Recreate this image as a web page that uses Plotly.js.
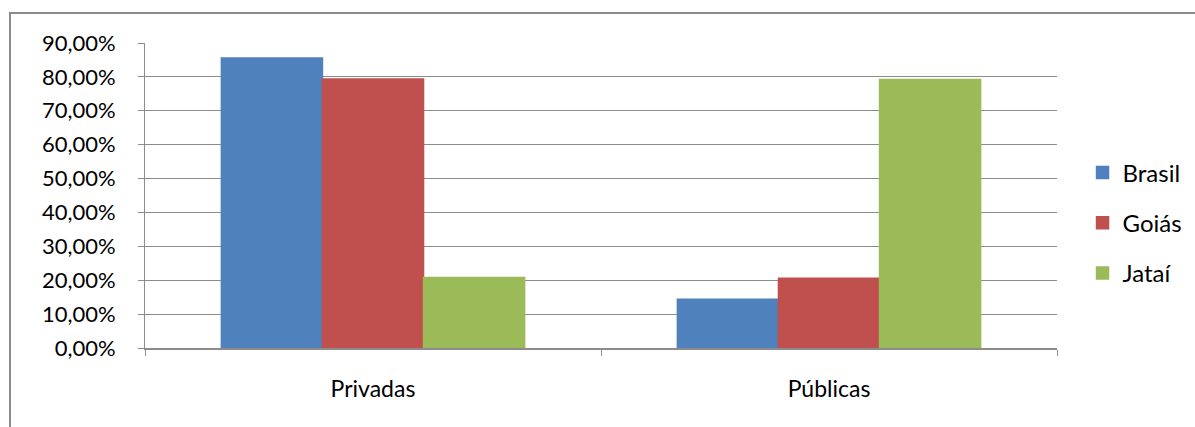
<!DOCTYPE html>
<html>
<head>
<meta charset="utf-8">
<script src="https://cdn.plot.ly/plotly-3.0.1.min.js"></script>
<style>
  html, body { margin: 0; padding: 0; background: #ffffff; }
  #wrap { position: relative; width: 1195px; height: 427px; overflow: hidden; }
  #chart { position: absolute; left: 0; top: 0; width: 1195px; height: 427px; }
  #frame { position: absolute; left: 9px; top: 12px; width: 1200px; height: 430px;
           border: 2px solid #8c8c8c; box-sizing: border-box; pointer-events: none; }
</style>
</head>
<body>
<div id="wrap">
  <div id="chart"></div>
  <div id="frame"></div>
</div>
<script>
// Share of enrolments by type of institution (%)
const categories = ['Privadas', 'Públicas'];
const brasil = [85.6, 14.4];
const goias = [79.4, 20.6];
const jatai = [20.8, 79.2];

const seriesNames = ['Brasil', 'Goiás', 'Jataí'];
const seriesColors = ['#4f81bd', '#c0504d', '#9bbb59'];

const yTickVals = [0, 10, 20, 30, 40, 50, 60, 70, 80, 90];
const yTickText = ['0,00%', '10,00%', '20,00%', '30,00%', '40,00%',
                   '50,00%', '60,00%', '70,00%', '80,00%', '90,00%'];

const font = 'Lato, "Open Sans", sans-serif';

const traces = [brasil, goias, jatai].map((vals, i) => ({
  type: 'bar',
  name: seriesNames[i],
  x: categories,
  y: vals,
  marker: { color: seriesColors[i], line: { width: 1.5, color: seriesColors[i] } },
  legendgroup: 'g' + i,
  hoverinfo: 'skip'
}));

const layout = {
  width: 1195,
  height: 427,
  margin: { l: 145, r: 138, t: 43, b: 79, autoexpand: false },
  paper_bgcolor: '#ffffff',
  plot_bgcolor: '#ffffff',
  font: { family: font, size: 22, color: '#000000' },
  barmode: 'group',
  bargap: 0.335,
  bargroupgap: 0,
  showlegend: true,
  legend: {
    x: 1.028, xanchor: 'left',
    y: 0.41, yanchor: 'middle',
    font: { family: font, size: 24, color: '#000000' },
    tracegroupgap: 16,
    itemwidth: 30,
    traceorder: 'grouped'
  },
  xaxis: {
    type: 'category',
    showline: true,
    linecolor: '#8c8c8c',
    linewidth: 2,
    ticks: 'outside',
    tickson: 'boundaries',
    ticklen: 6,
    tickcolor: '#8c8c8c',
    tickwidth: 1,
    showgrid: false,
    tickfont: { family: font, size: 23, color: '#000000' },
    ticklabelstandoff: 19
  },
  yaxis: {
    range: [0, 90],
    tickvals: yTickVals,
    ticktext: yTickText,
    showline: true,
    linecolor: '#8c8c8c',
    linewidth: 1,
    ticks: 'outside',
    ticklen: 6,
    tickcolor: '#8c8c8c',
    showgrid: true,
    gridcolor: '#8c8c8c',
    gridwidth: 1,
    zeroline: false,
    tickfont: { family: font, size: 22, color: '#000000' },
    ticklabelstandoff: 18
  }
};

Plotly.newPlot('chart', traces, layout, { displayModeBar: false, staticPlot: true });
</script>
</body>
</html>
